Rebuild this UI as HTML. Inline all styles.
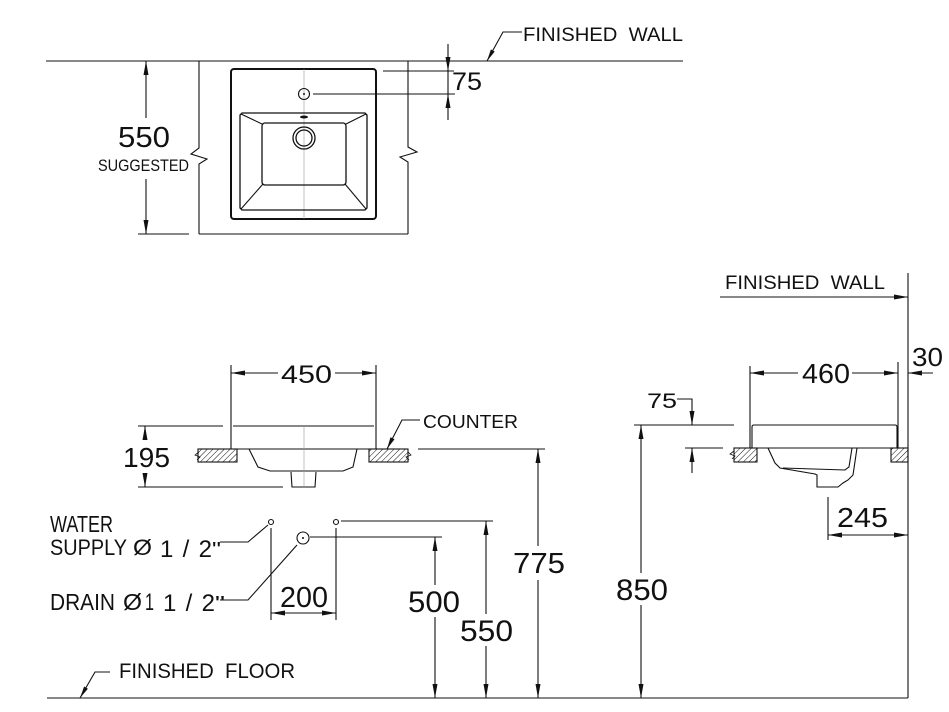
<!DOCTYPE html>
<html><head><meta charset="utf-8"><style>
html,body{margin:0;padding:0;background:#fff;}
svg{display:block;}
text{font-family:"Liberation Sans",sans-serif;fill:#111;}
</style></head><body>
<svg width="949" height="712" viewBox="0 0 949 712" xmlns="http://www.w3.org/2000/svg">
<defs>
<pattern id="h" patternUnits="userSpaceOnUse" width="4" height="4" patternTransform="rotate(45)">
<line x1="0" y1="0" x2="0" y2="4" stroke="#111" stroke-width="1"/>
</pattern>
</defs>
<g stroke="#111" stroke-width="1.1" fill="none">
<!-- TOP VIEW -->
<line x1="46" y1="61" x2="683" y2="61"/>
<path d="M199,61 V148 L191,154 L207,159 L199,164 V234"/>
<path d="M408,61 V147 L417,152 L400,157 L408,162 V234"/>
<line x1="199" y1="234" x2="408" y2="234"/>
<line x1="138" y1="234" x2="189" y2="234"/>
<line x1="146" y1="61" x2="146" y2="118"/>
<line x1="146" y1="179" x2="146" y2="234"/>
<rect x="231" y="69" width="145" height="150" rx="3" stroke-width="2"/>
<line x1="304" y1="69" x2="304" y2="219" stroke="#999" stroke-width="0.6"/>
<circle cx="304" cy="94" r="5.5"/>
<line x1="313" y1="94" x2="455" y2="94"/>
<line x1="383" y1="71" x2="454" y2="71"/>
<line x1="448" y1="44" x2="448" y2="120"/>
<path d="M487,61 L503,32 H522"/>
<path d="M242,113 H365 L367,115 V208 L365,210 H242 L240,208 V115 Z" stroke-width="1.3"/>
<rect x="262" y="123" width="84" height="62" rx="3" stroke-width="1.3"/>
<line x1="241" y1="114" x2="262" y2="124"/>
<line x1="366" y1="114" x2="346" y2="124"/>
<line x1="241" y1="209" x2="263" y2="184"/>
<line x1="366" y1="209" x2="345" y2="184"/>
<circle cx="304" cy="138" r="11" stroke-width="1.3"/>
<circle cx="304" cy="138" r="8" stroke-width="1.3"/>

<!-- FRONT VIEW -->
<line x1="231" y1="373" x2="278" y2="373"/>
<line x1="335" y1="373" x2="376" y2="373"/>
<path d="M231,365 V449"/>
<path d="M376,365 V449"/>
<path d="M233,426 H374"/>
<line x1="198" y1="449" x2="408" y2="449"/>
<rect x="198" y="449" width="39" height="13" fill="url(#h)"/>
<rect x="369" y="449" width="39" height="13" fill="url(#h)"/>
<path d="M249,449 L258,467 L270,471 L343,471 L353,467 L357,449"/>
<path d="M291,472 L292,487 H315 L316,472"/>
<line x1="304" y1="426" x2="304" y2="487" stroke="#999" stroke-width="0.6"/>
<line x1="138" y1="426" x2="223" y2="426"/>
<line x1="138" y1="487" x2="283" y2="487"/>
<line x1="145" y1="426" x2="145" y2="440"/>
<line x1="145" y1="473" x2="145" y2="487"/>
<path d="M387,449 L402,420 H420"/>
<line x1="418" y1="449" x2="545" y2="449"/>
<line x1="538" y1="449" x2="538" y2="546"/>
<line x1="538" y1="580" x2="538" y2="698"/>
<line x1="47" y1="698" x2="908" y2="698"/>
<path d="M80,698 L95,672 H110"/>
<circle cx="271" cy="522" r="2.5"/>
<circle cx="336" cy="522" r="2.5"/>
<circle cx="303" cy="538" r="6"/>
<line x1="341" y1="521" x2="493" y2="521"/>
<line x1="310" y1="537" x2="442" y2="537"/>
<line x1="271" y1="528" x2="271" y2="620"/>
<line x1="336" y1="528" x2="336" y2="620"/>
<line x1="271" y1="613" x2="336" y2="613"/>
<path d="M268,525 L248,542 H220"/>
<path d="M297,545 L248,600 H220"/>
<line x1="435" y1="537" x2="435" y2="585"/>
<line x1="435" y1="617" x2="435" y2="698"/>
<line x1="486" y1="521" x2="486" y2="614"/>
<line x1="486" y1="646" x2="486" y2="698"/>

<!-- SIDE VIEW -->
<line x1="908" y1="273" x2="908" y2="698"/>
<line x1="720" y1="297" x2="908" y2="297"/>
<line x1="908" y1="373" x2="933" y2="373"/>
<line x1="750" y1="373" x2="798" y2="373"/>
<line x1="852" y1="373" x2="898" y2="373"/>
<line x1="750" y1="366" x2="750" y2="448"/>
<line x1="898" y1="362" x2="898" y2="448"/>
<path d="M752,448 V427 Q752,425 754,425 H895 Q897,425 897,427 V448"/>
<line x1="734" y1="448" x2="908" y2="448"/>
<rect x="734" y="448" width="23" height="14" fill="url(#h)"/>
<rect x="891" y="448" width="17" height="14" fill="url(#h)"/>
<path d="M768,448 L775,463 L780,468 L815,474 L817,475 L817,487 L838,487 L843,483 L848,480 L853,475 L857,448"/>
<path d="M852,448 L849,467 L845,470 L783,468"/>
<line x1="634" y1="425" x2="734" y2="425"/>
<path d="M677,399 H692 V425"/>
<line x1="685" y1="448" x2="723" y2="448"/>
<line x1="692" y1="448" x2="692" y2="473"/>
<line x1="641" y1="425" x2="641" y2="573"/>
<line x1="641" y1="605" x2="641" y2="698"/>
<line x1="828" y1="497" x2="828" y2="540"/>
<line x1="828" y1="535" x2="908" y2="535"/>
<path d="M199,452 L195,455 L200,457 L197,460" stroke-width="0.8"/>
<path d="M408,452 L411,455 L406,457 L409,460" stroke-width="0.8"/>
<path d="M734,451 L730,454 L735,456 L732,459" stroke-width="0.8"/>
</g>

<!-- arrowheads & fills -->
<g fill="#111" stroke="none">
<polygon points="146,61 143.5,75 148.5,75"/>
<polygon points="146,234 143.5,220 148.5,220"/>
<polygon points="448,71 445.5,57 450.5,57"/>
<polygon points="448,94 445.5,108 450.5,108"/>
<polygon points="487,61 494.7,51.6 490.9,49.4"/>
<circle cx="304" cy="94" r="1"/>
<ellipse cx="304" cy="117" rx="4" ry="1.5"/>
<polygon points="231,373 245,370.5 245,375.5"/>
<polygon points="376,373 362,370.5 362,375.5"/>
<polygon points="145,426 142.5,440 147.5,440"/>
<polygon points="145,487 142.5,473 147.5,473"/>
<polygon points="387,449 394.5,439.3 390.5,437.3"/>
<polygon points="538,449 535.5,463 540.5,463"/>
<polygon points="538,698 535.5,684 540.5,684"/>
<polygon points="435,537 432.5,551 437.5,551"/>
<polygon points="435,698 432.5,684 437.5,684"/>
<polygon points="486,521 483.5,535 488.5,535"/>
<polygon points="486,698 483.5,684 488.5,684"/>
<polygon points="641,425 638.5,439 643.5,439"/>
<polygon points="641,698 638.5,684 643.5,684"/>
<polygon points="271,613 285,610.5 285,615.5"/>
<polygon points="336,613 322,610.5 322,615.5"/>
<polygon points="80,698 87.9,688.7 84.1,686.5"/>
<circle cx="303" cy="538" r="1"/>
<polygon points="908,297 894,294.5 894,299.5"/>
<polygon points="908,373 922,370.5 922,375.5"/>
<polygon points="750,373 764,370.5 764,375.5"/>
<polygon points="898,373 884,370.5 884,375.5"/>
<polygon points="692,425 689.5,411 694.5,411"/>
<polygon points="692,448 689.5,462 694.5,462"/>
<polygon points="828,535 842,532.5 842,537.5"/>
<polygon points="908,535 894,532.5 894,537.5"/>
</g>

<!-- TEXT -->
<text x="118" y="147" font-size="29" textLength="52" lengthAdjust="spacingAndGlyphs">550</text>
<text x="98" y="171" font-size="16.5" textLength="91" lengthAdjust="spacingAndGlyphs">SUGGESTED</text>
<text x="452" y="90" font-size="25" textLength="30" lengthAdjust="spacingAndGlyphs">75</text>
<text x="523" y="41" font-size="19.5" textLength="160" lengthAdjust="spacingAndGlyphs">FINISHED&#160; WALL</text>
<text x="281" y="383" font-size="25" textLength="51" lengthAdjust="spacingAndGlyphs">450</text>
<text x="123" y="467" font-size="28" textLength="47" lengthAdjust="spacingAndGlyphs">195</text>
<text x="423" y="428" font-size="18.5" textLength="95" lengthAdjust="spacingAndGlyphs">COUNTER</text>
<text x="513" y="573" font-size="29" textLength="52" lengthAdjust="spacingAndGlyphs">775</text>
<text x="408" y="612" font-size="30" textLength="52" lengthAdjust="spacingAndGlyphs">500</text>
<text x="460" y="641" font-size="30" textLength="53" lengthAdjust="spacingAndGlyphs">550</text>
<text x="280" y="607" font-size="29" textLength="48" lengthAdjust="spacingAndGlyphs">200</text>
<text x="616" y="600" font-size="30" textLength="52" lengthAdjust="spacingAndGlyphs">850</text>
<text x="119" y="678" font-size="21" textLength="176" lengthAdjust="spacingAndGlyphs">FINISHED&#160; FLOOR</text>
<text x="50" y="532" font-size="23" textLength="63" lengthAdjust="spacingAndGlyphs">WATER</text>
<text x="50" y="555" font-size="22" textLength="77" lengthAdjust="spacingAndGlyphs">SUPPLY</text>
<text x="133" y="555" font-size="22" textLength="19" lengthAdjust="spacingAndGlyphs">Ø</text>
<text x="160" y="557" font-size="24" textLength="52" lengthAdjust="spacing">1/2</text>
<text x="212" y="556" font-size="20" textLength="9" lengthAdjust="spacingAndGlyphs">"</text>
<text x="50" y="610" font-size="23" textLength="65" lengthAdjust="spacingAndGlyphs">DRAIN</text>
<text x="123" y="610" font-size="23" textLength="19" lengthAdjust="spacingAndGlyphs">Ø</text>
<text x="145" y="610" font-size="24" textLength="9" lengthAdjust="spacingAndGlyphs">1</text>
<text x="163" y="611" font-size="24" textLength="52" lengthAdjust="spacing">1/2</text>
<text x="215" y="610" font-size="20" textLength="10" lengthAdjust="spacingAndGlyphs">"</text>
<text x="725" y="289" font-size="19.5" textLength="160" lengthAdjust="spacingAndGlyphs">FINISHED&#160; WALL</text>
<text x="912" y="366" font-size="26" textLength="31" lengthAdjust="spacingAndGlyphs">30</text>
<text x="802" y="383" font-size="28" textLength="48" lengthAdjust="spacingAndGlyphs">460</text>
<text x="647" y="408" font-size="21" textLength="30" lengthAdjust="spacingAndGlyphs">75</text>
<text x="837" y="527" font-size="28" textLength="51" lengthAdjust="spacingAndGlyphs">245</text>
</svg>
</body></html>
